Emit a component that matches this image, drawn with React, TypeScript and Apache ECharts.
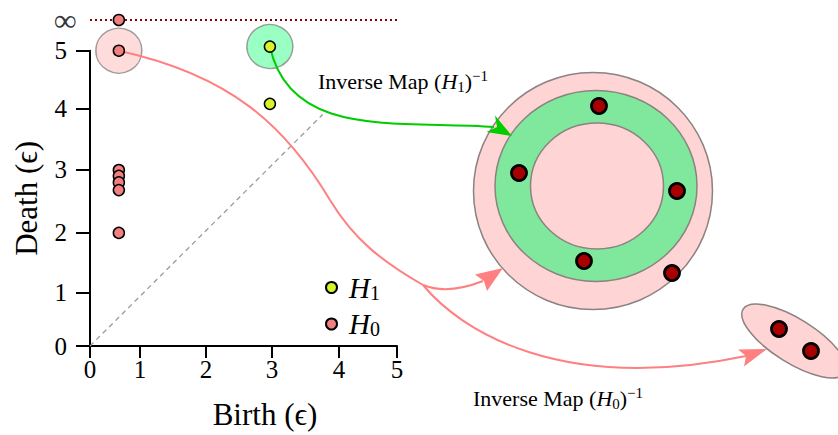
import React, { useEffect, useRef } from "react";
import * as echarts from "echarts";

const SERIF = "'Liberation Serif', 'DejaVu Serif', serif";
const INF = 5.52;

// axis ticks (positions as drawn in the reference) and their labels
const xTickLabels = ["0", "1", "2", "3", "4", "5"];
const xTickAt = [0, 0.814, 1.889, 2.964, 4.055, 5];
const yTickLabels = ["0", "1", "2", "3", "4", "5"];
const yTickAt = [0, 0.91, 1.915, 2.99, 4.013, 5];

// persistence diagram
const h0Birth = [0.47, 0.47, 0.47, 0.47, 0.47, 0.47, 0.47];
const h0Death = [INF, 5.0, 2.98, 2.88, 2.77, 2.64, 1.915];
const h1Birth = [2.93, 2.93];
const h1Death = [5.07, 4.1];
const diagonalX = [0, 3.79];
const diagonalY = [0, 3.92];
const infinityX = [0, 5];

// inverse-map sample points (illustration plane)
const annulusX = [599, 519, 677, 584, 672];
const annulusY = [106, 173, 191, 261, 273];
const clusterX = [779, 811];
const clusterY = [329, 351];

const legendNames = ["H1", "H0"];
const mapLabelH1 = "{r|Inverse Map (}{i|H}{b|1}{r|)}{p|−1}";
const mapLabelH0 = "{r|Inverse Map (}{i|H}{b|0}{r|)}{p|−1}";

const zip = (a: number[], b: number[]) => a.map((v, i) => [v, b[i]]);
const nearest = (arr: number[], v: number) =>
  arr.reduce((bi, a, i) => (Math.abs(a - v) < Math.abs(arr[bi] - v) ? i : bi), 0);

const tickText = { fontFamily: SERIF, fontSize: 25, color: "#000" };

const option: any = {
  animation: false,
  backgroundColor: "#fff",
  grid: [
    { left: 90, top: 50.7, width: 307, height: 296.6 },
    { left: 440, top: 0, width: 398, height: 435 },
  ],
  xAxis: [
    {
      type: "value",
      gridIndex: 0,
      min: 0,
      max: 5,
      splitLine: { show: false },
      axisLine: { lineStyle: { color: "#000", width: 2 } },
      axisTick: { customValues: xTickAt, length: 12, lineStyle: { color: "#000", width: 2 } },
      axisLabel: {
        customValues: xTickAt,
        formatter: (v: number) => xTickLabels[nearest(xTickAt, v)],
        margin: 11,
        ...tickText,
      },
      name: "Birth (ϵ)",
      nameLocation: "middle",
      nameGap: 53,
      nameTextStyle: { fontFamily: SERIF, fontSize: 31, color: "#000", padding: [0, 0, 0, 43] },
    },
    { type: "value", gridIndex: 1, min: 440, max: 838, show: false },
  ],
  yAxis: [
    {
      type: "value",
      gridIndex: 0,
      min: 0,
      max: 5,
      splitLine: { show: false },
      axisLine: { lineStyle: { color: "#000", width: 2 } },
      axisTick: { customValues: yTickAt, length: 14, lineStyle: { color: "#000", width: 2 } },
      axisLabel: {
        customValues: yTickAt,
        formatter: (v: number) => yTickLabels[nearest(yTickAt, v)],
        margin: 23,
        ...tickText,
      },
      name: "Death (ϵ)",
      nameLocation: "middle",
      nameGap: 48,
      nameTextStyle: { fontFamily: SERIF, fontSize: 31, color: "#000" },
    },
    { type: "value", gridIndex: 1, min: 0, max: 435, inverse: true, show: false },
  ],
  legend: {
    data: legendNames,
    orient: "vertical",
    left: 320,
    top: 268,
    itemWidth: 11,
    itemHeight: 11,
    itemGap: 7,
    icon: "circle",
    formatter: (n: string) => `{h|H}{s|${n.slice(1)}}`,
    textStyle: {
      rich: {
        h: { fontFamily: SERIF, fontStyle: "italic", fontSize: 29, color: "#000", lineHeight: 30, padding: [0, 0, 0, 7] },
        s: { fontFamily: SERIF, fontSize: 20, color: "#000", lineHeight: 14, verticalAlign: "bottom" },
      },
    },
  },
  series: [
    {
      name: "diagonal",
      type: "line",
      data: zip(diagonalX, diagonalY),
      symbol: "none",
      silent: true,
      z: 2,
      lineStyle: { color: "#9a9a9a", width: 1.3, type: [5, 4] },
    },
    {
      name: "infinity",
      type: "line",
      data: zip(infinityX, [INF, INF]),
      symbol: "none",
      clip: false,
      silent: true,
      z: 2,
      lineStyle: { color: "#8b0000", width: 2, type: [2, 3] },
    },
    {
      name: "infLabel",
      type: "scatter",
      data: [[infinityX[0], INF]],
      symbolSize: 1,
      clip: false,
      silent: true,
      itemStyle: { color: "rgba(0,0,0,0)" },
      label: {
        show: true,
        formatter: "∞",
        position: "left",
        distance: 13,
        fontFamily: SERIF,
        fontSize: 32,
        color: "#000",
      },
    },
    {
      name: "haloH0",
      type: "scatter",
      data: [[h0Birth[1], h0Death[1]]],
      symbolSize: [46, 45],
      clip: false,
      silent: true,
      z: 1,
      itemStyle: { color: "#ffd3d3", borderColor: "#8c8686", borderWidth: 1.5 },
    },
    {
      name: "haloH1",
      type: "scatter",
      data: [[h1Birth[0], h1Death[0]]],
      symbolSize: [46, 44],
      clip: false,
      silent: true,
      z: 1,
      itemStyle: { color: "#80ffb4", borderColor: "#8c8686", borderWidth: 1.5 },
    },
    {
      name: "H1",
      type: "scatter",
      data: zip(h1Birth, h1Death),
      symbolSize: 11,
      clip: false,
      silent: true,
      z: 5,
      itemStyle: { color: "#d8f22c", borderColor: "#000", borderWidth: 1.5, opacity: 1 },
    },
    {
      name: "H0",
      type: "scatter",
      data: zip(h0Birth, h0Death),
      symbolSize: 11,
      clip: false,
      silent: true,
      z: 5,
      itemStyle: { color: "#f28080", borderColor: "#000", borderWidth: 1.5, opacity: 1 },
    },
    {
      name: "annulusSamples",
      type: "scatter",
      xAxisIndex: 1,
      yAxisIndex: 1,
      data: zip(annulusX, annulusY),
      symbolSize: 15,
      silent: true,
      z: 5,
      itemStyle: { color: "#a80000", borderColor: "#000", borderWidth: 2.8, opacity: 1 },
    },
    {
      name: "clusterSamples",
      type: "scatter",
      xAxisIndex: 1,
      yAxisIndex: 1,
      data: zip(clusterX, clusterY),
      symbolSize: 15,
      silent: true,
      z: 5,
      itemStyle: { color: "#a80000", borderColor: "#000", borderWidth: 2.8, opacity: 1 },
    },
  ],
};

const PINK = "#ff8080";
const GREEN = "#00cc00";
const ringStroke = { stroke: "#8c8282", lineWidth: 1.5 };

function buildGraphics(pH0: number[], pH1: number[]) {
  const richBase = {
    r: { fontFamily: SERIF, fontSize: 22, color: "#222", lineHeight: 26 },
    i: { fontFamily: SERIF, fontStyle: "italic", fontSize: 22, color: "#222", lineHeight: 26 },
    b: { fontFamily: SERIF, fontSize: 15, color: "#222", lineHeight: 12, verticalAlign: "bottom" },
    p: { fontFamily: SERIF, fontSize: 15, color: "#222", lineHeight: 16, verticalAlign: "top" },
  };
  const curve = (shape: any) => ({
    type: "bezierCurve",
    z: 3,
    silent: true,
    shape,
    style: { stroke: PINK, lineWidth: 2, fill: "none" },
  });
  return [
    // annulus
    { type: "ellipse", z: 0, silent: true, shape: { cx: 593, cy: 191, rx: 119.5, ry: 118.5 }, style: { fill: "#ffd4d4", ...ringStroke } },
    { type: "ellipse", z: 0, silent: true, shape: { cx: 596, cy: 186, rx: 101, ry: 95.5 }, style: { fill: "#80e89c", ...ringStroke } },
    { type: "ellipse", z: 0, silent: true, shape: { cx: 597, cy: 186, rx: 66.5, ry: 63 }, style: { fill: "#ffd4d4", ...ringStroke } },
    // cluster ellipse
    {
      type: "ellipse",
      z: 0,
      silent: true,
      x: 794,
      y: 341,
      rotation: (-32 * Math.PI) / 180,
      shape: { cx: 0, cy: 0, rx: 60, ry: 22 },
      style: { fill: "#ffd4d4", ...ringStroke },
    },
    // green inverse-map arrow
    {
      type: "bezierCurve",
      z: 3,
      silent: true,
      shape: { x1: pH1[0], y1: pH1[1], cpx1: 290, cpy1: 140, cpx2: 400, cpy2: 120, x2: 494, y2: 127 },
      style: { stroke: GREEN, lineWidth: 2, fill: "none" },
    },
    {
      type: "polygon",
      z: 3,
      silent: true,
      shape: { points: [[512, 136], [495, 115.5], [497, 127], [486.5, 132]] },
      style: { fill: GREEN },
    },
    // pink inverse-map arrows
    curve({ x1: pH0[0], y1: pH0[1], cpx1: 230, cpy1: 75, cpx2: 285, cpy2: 125, x2: 330, y2: 200 }),
    curve({ x1: 330, y1: 200, cpx1: 354, cpy1: 240, cpx2: 383, cpy2: 262, x2: 423, y2: 285 }),
    curve({ x1: 423, y1: 285, cpx1: 440, cpy1: 292, cpx2: 460, cpy2: 290, x2: 483, y2: 281 }),
    {
      type: "polygon",
      z: 3,
      silent: true,
      shape: { points: [[503, 268], [475, 274.5], [484, 281], [487, 291]] },
      style: { fill: PINK },
    },
    curve({ x1: 423, y1: 285, cpx1: 460, cpy1: 330, cpx2: 560, cpy2: 395, x2: 746, y2: 356 }),
    {
      type: "polygon",
      z: 3,
      silent: true,
      shape: { points: [[767, 349], [738, 349.5], [746, 356], [744, 366.5]] },
      style: { fill: PINK },
    },
    // labels
    {
      type: "text",
      z: 4,
      silent: true,
      x: 318,
      y: 81,
      style: { text: mapLabelH1, rich: richBase, align: "left", verticalAlign: "middle" },
    },
    {
      type: "text",
      z: 4,
      silent: true,
      x: 473,
      y: 398,
      style: { text: mapLabelH0, rich: richBase, align: "left", verticalAlign: "middle" },
    },
  ];
}

export default function App() {
  const ref = useRef<HTMLDivElement>(null);
  useEffect(() => {
    if (!ref.current) return;
    const chart = echarts.init(ref.current, null, { renderer: "svg" });
    chart.setOption(option);
    const pH0 = chart.convertToPixel({ gridIndex: 0 } as any, [h0Birth[1], h0Death[1]]) as unknown as number[];
    const pH1 = chart.convertToPixel({ gridIndex: 0 } as any, [h1Birth[0], h1Death[0]]) as unknown as number[];
    chart.setOption({ graphic: { elements: buildGraphics(pH0, pH1) } });
    return () => chart.dispose();
  }, []);
  return (
    <div
      ref={ref}
      style={{ position: "fixed", left: 0, top: 0, width: 838, height: 435, background: "#fff" }}
    />
  );
}
